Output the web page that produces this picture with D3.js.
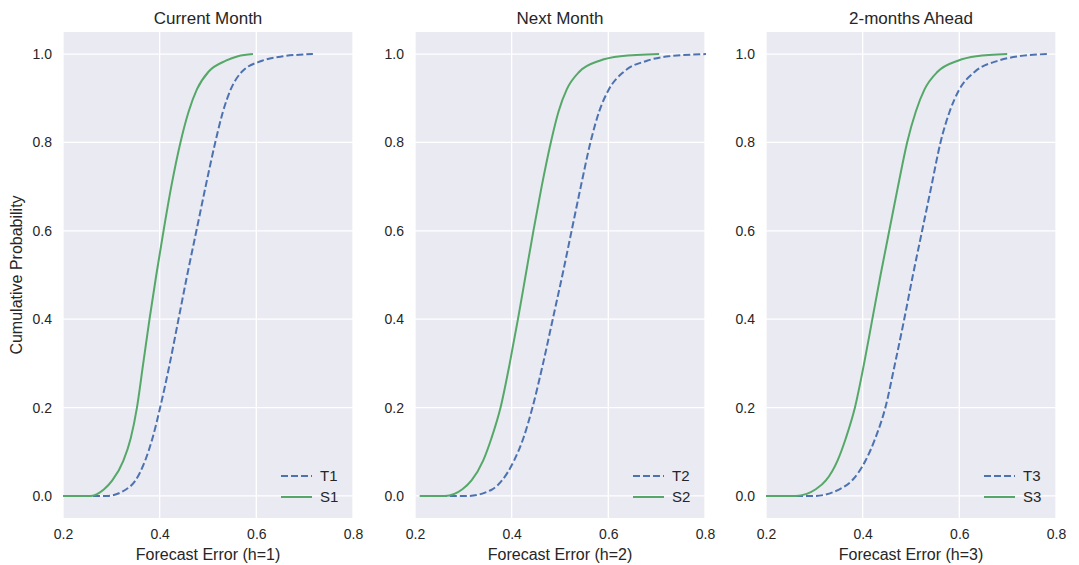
<!DOCTYPE html>
<html>
<head>
<meta charset="utf-8">
<script src="https://cdn.jsdelivr.net/npm/d3@7"></script>
<style>
  html, body { margin: 0; padding: 0; background: #ffffff; }
  svg { display: block; font-family: Arial, "Liberation Sans", sans-serif; }
</style>
</head>
<body>
<svg id="chart" width="1079" height="565"></svg>
<script>
// ---- data ----
const panelTitles = ["Current Month", "Next Month", "2-months Ahead"];
const xAxisLabels = ["Forecast Error (h=1)", "Forecast Error (h=2)", "Forecast Error (h=3)"];
const yAxisLabel = "Cumulative Probability";
const seriesNamesT = ["T1", "T2", "T3"];
const seriesNamesS = ["S1", "S2", "S3"];
const xTicks = [0.2, 0.4, 0.6, 0.8];
const yTicks = [0.0, 0.2, 0.4, 0.6, 0.8, 1.0];

// cumulative probability levels (shared by all series)
const cumProb = [0, 0, 0.015, 0.035, 0.08, 0.13, 0.2, 0.3, 0.4, 0.5, 0.6, 0.7, 0.8, 0.87, 0.92, 0.96, 0.985, 0.995, 1.0];

// forecast error at each probability level
const t1Err = [0.20, 0.29, 0.331, 0.35, 0.37, 0.385, 0.401, 0.421, 0.439, 0.457, 0.476, 0.495, 0.515, 0.531, 0.547, 0.57, 0.612, 0.655, 0.717];
const s1Err = [0.20, 0.258, 0.285, 0.302, 0.325, 0.34, 0.353, 0.366, 0.379, 0.393, 0.408, 0.424, 0.443, 0.46, 0.477, 0.501, 0.537, 0.562, 0.593];
const t2Err = [0.21, 0.31, 0.36, 0.38, 0.405, 0.424, 0.443, 0.465, 0.485, 0.505, 0.524, 0.543, 0.563, 0.581, 0.601, 0.632, 0.68, 0.725, 0.802];
const s2Err = [0.21, 0.262, 0.298, 0.317, 0.341, 0.358, 0.377, 0.396, 0.413, 0.429, 0.445, 0.462, 0.481, 0.497, 0.514, 0.54, 0.582, 0.625, 0.705];
const t3Err = [0.20, 0.30, 0.352, 0.378, 0.406, 0.426, 0.447, 0.467, 0.486, 0.504, 0.523, 0.542, 0.561, 0.58, 0.60, 0.632, 0.68, 0.722, 0.781];
const s3Err = [0.20, 0.262, 0.303, 0.324, 0.348, 0.365, 0.384, 0.403, 0.42, 0.437, 0.455, 0.473, 0.492, 0.51, 0.528, 0.555, 0.597, 0.635, 0.699];

const tSeries = [t1Err, t2Err, t3Err];
const sSeries = [s1Err, s2Err, s3Err];

// ---- layout ----
const panelLefts = [63, 415, 766];
const panelWidth = 290;
const plotTop = 32, plotBottom = 518;
const colT = "#4c72b0", colS = "#55a868";
const textCol = "#262626";

const svg = d3.select("#chart");

const y = d3.scaleLinear().domain([-0.05, 1.05]).range([plotBottom, plotTop]);

panelTitles.forEach((title, i) => {
  const left = panelLefts[i];
  const x = d3.scaleLinear().domain([0.2, 0.8]).range([left, left + panelWidth]);
  const g = svg.append("g");

  // background
  g.append("rect").attr("x", left).attr("y", plotTop)
    .attr("width", panelWidth).attr("height", plotBottom - plotTop).attr("fill", "#eaeaf2");

  // grid
  g.selectAll(".gx").data(xTicks).join("line")
    .attr("x1", d => x(d)).attr("x2", d => x(d)).attr("y1", plotTop).attr("y2", plotBottom)
    .attr("stroke", "#ffffff").attr("stroke-width", 1.3);
  g.selectAll(".gy").data(yTicks).join("line")
    .attr("x1", left).attr("x2", left + panelWidth).attr("y1", d => y(d)).attr("y2", d => y(d))
    .attr("stroke", "#ffffff").attr("stroke-width", 1.3);

  // axes (tick labels only)
  const xAxis = d3.axisBottom(x).tickValues(xTicks).tickFormat(d3.format(".1f")).tickSize(0).tickPadding(11);
  const gx = g.append("g").attr("transform", `translate(0,${plotBottom})`).call(xAxis);
  gx.select(".domain").remove();
  gx.selectAll("text").attr("fill", textCol).style("font-size", "14px");

  const yAxis = d3.axisLeft(y).tickValues(yTicks).tickFormat(d3.format(".1f")).tickSize(0).tickPadding(11);
  const gy = g.append("g").attr("transform", `translate(${left},0)`).call(yAxis);
  gy.select(".domain").remove();
  gy.selectAll("text").attr("fill", textCol).style("font-size", "14px");

  // lines
  const line = d3.line().x(d => x(d[0])).y(d => y(d[1])).curve(d3.curveMonotoneX);
  const tData = tSeries[i].map((v, k) => [v, cumProb[k]]);
  const sData = sSeries[i].map((v, k) => [v, cumProb[k]]);
  g.append("path").datum(tData).attr("d", line).attr("fill", "none")
    .attr("stroke", colT).attr("stroke-width", 2).attr("stroke-dasharray", "7,3");
  g.append("path").datum(sData).attr("d", line).attr("fill", "none")
    .attr("stroke", colS).attr("stroke-width", 2);

  // title
  g.append("text").attr("x", left + panelWidth / 2).attr("y", 24)
    .attr("text-anchor", "middle").attr("fill", textCol).style("font-size", "17px").text(title);

  // x label
  g.append("text").attr("x", left + panelWidth / 2).attr("y", 560)
    .attr("text-anchor", "middle").attr("fill", textCol).style("font-size", "16px").text(xAxisLabels[i]);

  // legend
  const right = left + panelWidth;
  const legendRows = [
    {name: seriesNamesT[i], color: colT, dash: "7,3", cy: 476},
    {name: seriesNamesS[i], color: colS, dash: null, cy: 497}
  ];
  legendRows.forEach(r => {
    g.append("line").attr("x1", right - 72).attr("x2", right - 41)
      .attr("y1", r.cy).attr("y2", r.cy)
      .attr("stroke", r.color).attr("stroke-width", 2)
      .attr("stroke-dasharray", r.dash);
    g.append("text").attr("x", right - 33).attr("y", r.cy).attr("dy", "0.35em")
      .attr("fill", textCol).style("font-size", "15px").text(r.name);
  });
});

// y label
svg.append("text")
  .attr("transform", `translate(16,${(plotTop + plotBottom) / 2}) rotate(-90)`)
  .attr("text-anchor", "middle").attr("dy", "0.35em")
  .attr("fill", textCol).style("font-size", "16px").text(yAxisLabel);
</script>
</body>
</html>
